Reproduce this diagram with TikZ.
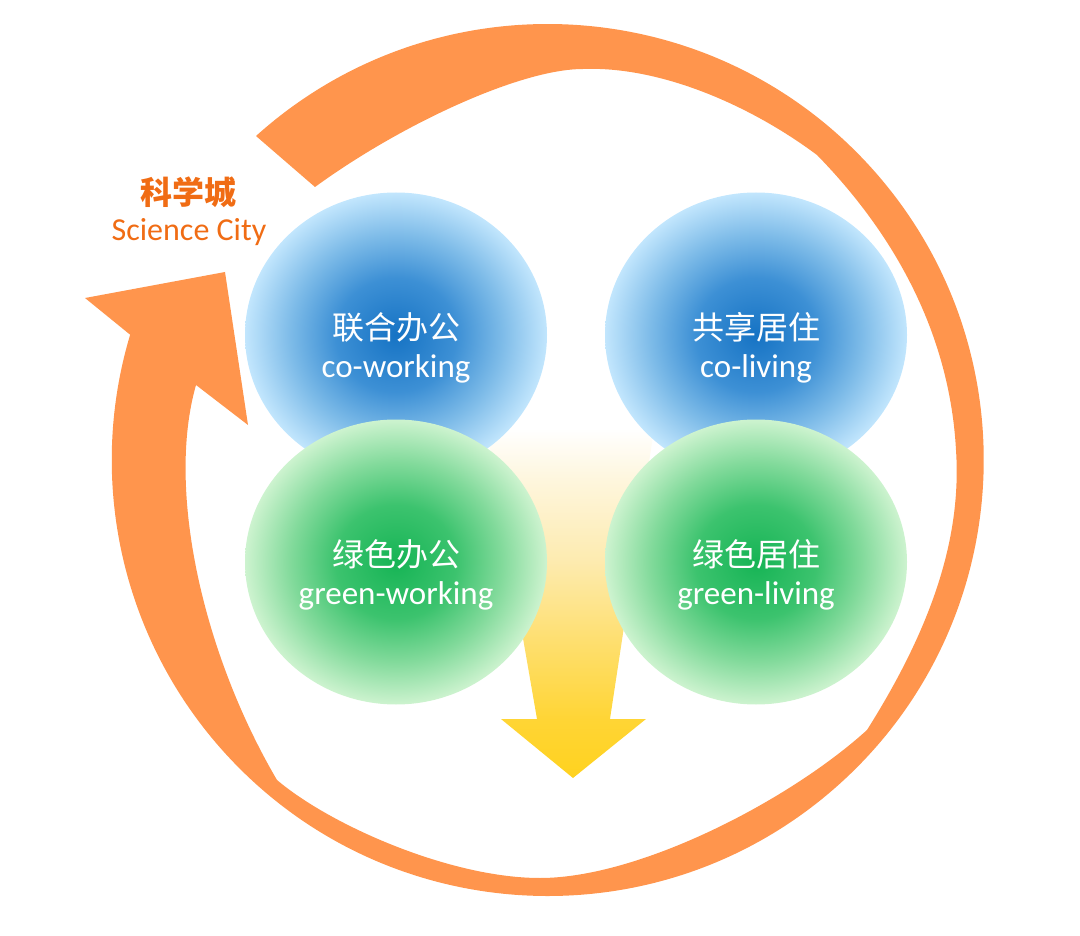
\documentclass[tikz,border=0pt]{standalone}
\usepackage{fontspec}
\setmainfont{Carlito}
\newfontfamily\zh{Noto Sans CJK SC}
\usetikzlibrary{shapes.geometric, positioning}

\definecolor{ringorange}{RGB}{255,149,77}
\definecolor{cityorange}{RGB}{240,108,20}
\definecolor{blueA}{RGB}{22,115,196}
\definecolor{blueB}{RGB}{61,144,213}
\definecolor{blueC}{RGB}{125,187,232}
\definecolor{blueD}{RGB}{194,230,253}
\definecolor{greenA}{RGB}{22,180,85}
\definecolor{greenB}{RGB}{60,195,110}
\definecolor{greenC}{RGB}{130,218,155}
\definecolor{greenD}{RGB}{205,243,207}
\definecolor{arrowA}{RGB}{255,210,31}
\definecolor{arrowB}{RGB}{255,213,53}
\definecolor{arrowC}{RGB}{254,223,112}
\definecolor{arrowD}{RGB}{253,235,176}
\definecolor{arrowE}{RGB}{254,246,221}

% the shape's edge falls on 25bp of a shading
\pgfdeclareradialshading{bluedisc}{\pgfpoint{0bp}{0bp}}{color(0bp)=(blueA); color(10bp)=(blueB); color(17.5bp)=(blueC); color(25bp)=(blueD); color(50bp)=(blueD)}
\pgfdeclareradialshading{greendisc}{\pgfpoint{0bp}{0bp}}{color(0bp)=(greenA); color(10bp)=(greenB); color(17.5bp)=(greenC); color(25bp)=(greenD); color(50bp)=(greenD)}
\pgfdeclareverticalshading{arrowfade}{100bp}{color(0bp)=(arrowA); color(25bp)=(arrowA); color(32.6bp)=(arrowB); color(42.8bp)=(arrowC); color(53.1bp)=(arrowD); color(63.4bp)=(arrowE); color(70bp)=(white); color(100bp)=(white)}

\tikzset{
    disc/.style={ellipse, minimum width=302pt, minimum height=285pt, inner sep=0pt, shade},
    zhtext/.style={font=\zh\fontsize{32pt}{36pt}\selectfont, text=white, inner sep=0pt},
    entext/.style={font=\fontsize{33pt}{38pt}\selectfont, text=white, inner sep=0pt},
}

\begin{document}
\begin{tikzpicture}[x=1pt, y=-1pt]
    \useasboundingbox (0,0) rectangle (1080,936);

    % Downward arrow behind the circles
    \shade[shading=arrowfade] (480,390) -- (660,390) -- (610,719) -- (646,719)
        -- (573,778) -- (501,719) -- (537,719) -- cycle;

    % Circular arrow round everything
    \fill[ringorange] (256,136) arc[start angle=-132, end angle=196.7, radius=436]
        -- (85,298) -- (225,272) -- (248,425) -- (196,385)
        .. controls (166,490) and (203,654) .. (277,780)
        .. controls (330,825) and (450,878) .. (540,878)
        .. controls (640,878) and (790,800) .. (867,730)
        .. controls (930,630) and (962,540) .. (956,450)
        .. controls (950,340) and (900,240) .. (817,155)
        .. controls (750,105) and (660,66) .. (583,69)
        .. controls (520,69) and (400,125) .. (315,187) -- cycle;

    % Title
    \node[font=\zh\bfseries\fontsize{32pt}{36pt}\selectfont, text=cityorange, inner sep=0pt] (cityzh) at (188,192) {科学城};
    \node[font=\fontsize{32pt}{36pt}\selectfont, text=cityorange, inner sep=0pt] (cityen) at (189,232) {Science City};

    % Four circles
    \foreach \nm/\x/\y/\sh/\zhtxt/\entxt in {cowork/396/335/bluedisc/联合办公/co-working,
        coliving/756/335/bluedisc/共享居住/co-living,
        greenwork/396/562/greendisc/绿色办公/green-working,
        greenliving/756/562/greendisc/绿色居住/green-living} {
        \node[disc, shading=\sh] (\nm) at (\x,\y) {};
        \node[zhtext] (\nm-zh) at ([yshift=8pt]\nm.center) {\zhtxt};
        \node[entext] (\nm-en) at ([yshift=-34pt]\nm.center) {\entxt};
    }
\end{tikzpicture}
\end{document}
